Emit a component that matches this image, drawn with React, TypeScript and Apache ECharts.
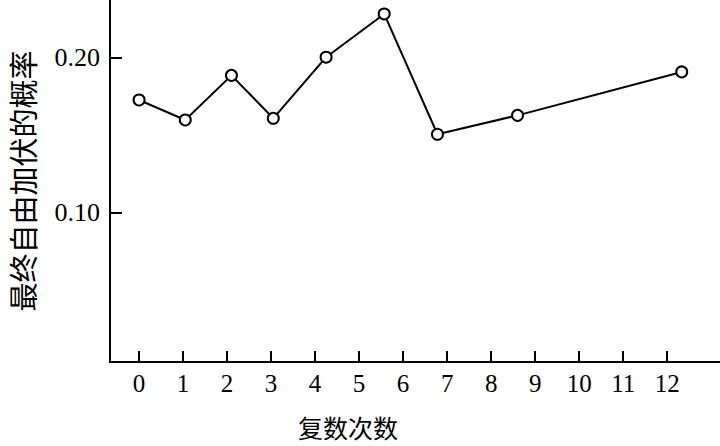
import React, { useEffect, useRef } from "react";
import * as echarts from "echarts";

const xValues = [0, 1.05, 2.1, 3.05, 4.25, 5.57, 6.78, 8.6, 12.33];
const yValues = [0.1727, 0.1598, 0.1886, 0.1609, 0.2003, 0.2282, 0.1506, 0.1628, 0.1908];
const xTicks = [0, 1, 2, 3, 4, 5, 6, 7, 8, 9, 10, 11, 12];
const yTicks = [0.1, 0.2];
const yName = "最终自由加伏的概率";
const xName = "复数次数";

const FONT = "'Liberation Serif', 'Times New Roman', 'Noto Sans CJK SC', serif";
const CJK = "'Noto Sans CJK SC', 'Liberation Serif', serif";

export default function App() {
  const ref = useRef<HTMLDivElement>(null);
  useEffect(() => {
    if (!ref.current) return;
    const chart = echarts.init(ref.current, null, { renderer: "svg" });
    chart.setOption({
      animation: false,
      backgroundColor: "#ffffff",
      grid: { left: 110, right: 0, top: 0, bottom: 84, containLabel: false, outerBoundsMode: "none" },
      xAxis: {
        type: "value",
        min: -0.66,
        max: 13.2,
        splitLine: { show: false },
        axisLine: { show: true, onZero: false, lineStyle: { color: "#000", width: 2 } },
        axisTick: { show: true, inside: true, length: 11, customValues: xTicks, lineStyle: { color: "#000", width: 2 } },
        axisLabel: {
          customValues: xTicks,
          color: "#000",
          fontFamily: FONT,
          fontSize: 25,
          margin: 9,
          formatter: (v: number) => String(Math.round(v)),
        },
      },
      yAxis: {
        type: "value",
        min: 0.0037,
        max: 0.2372,
        name: yName,
        nameLocation: "middle",
        nameGap: 74,
        nameTextStyle: { color: "#000", fontFamily: CJK, fontSize: 29 },
        splitLine: { show: false },
        axisLine: { show: true, onZero: false, lineStyle: { color: "#000", width: 2 } },
        axisTick: { show: true, inside: true, length: 12, customValues: yTicks, lineStyle: { color: "#000", width: 2 } },
        axisLabel: {
          customValues: yTicks,
          color: "#000",
          fontFamily: FONT,
          fontSize: 26,
          margin: 10,
          formatter: (v: number) => v.toFixed(2),
        },
      },
      series: [
        {
          type: "line",
          data: xValues.map((x, i) => [x, yValues[i]]),
          symbol: "circle",
          symbolSize: 11,
          showSymbol: true,
          lineStyle: { color: "#000", width: 2 },
          itemStyle: { color: "#fff", borderColor: "#000", borderWidth: 2 },
          z: 3,
        },
      ],
      graphic: [
        {
          type: "text",
          left: 298,
          top: 414,
          style: { text: xName, fill: "#000", font: `25px ${CJK}` },
        },
      ],
    });
    return () => chart.dispose();
  }, []);
  return (
    <div
      ref={ref}
      style={{ position: "fixed", left: 0, top: 0, width: 720, height: 446, background: "#fff" }}
    />
  );
}
